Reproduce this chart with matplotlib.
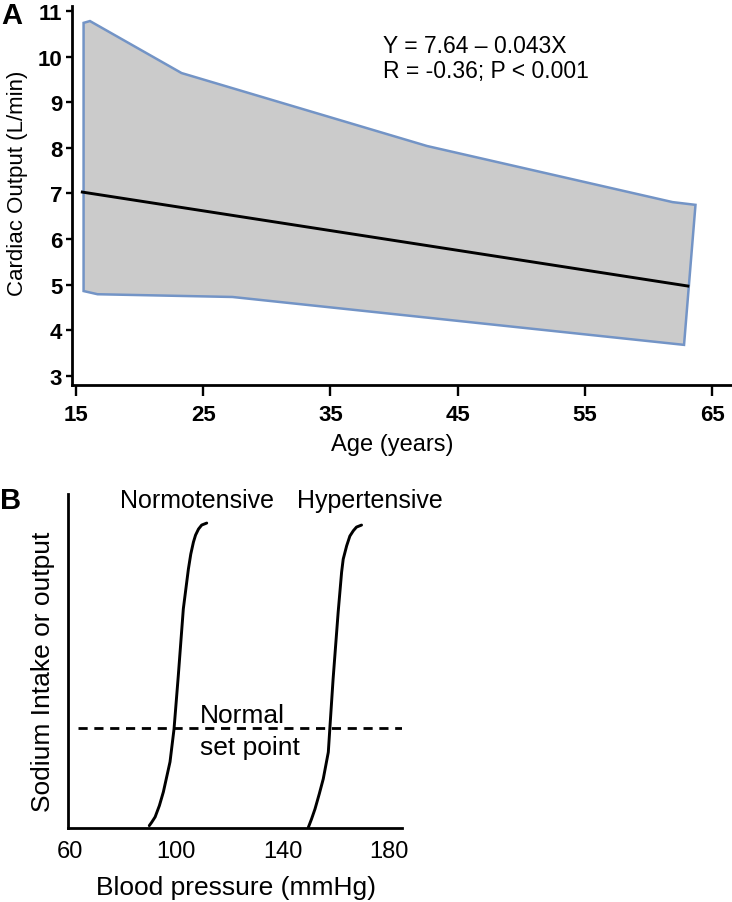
import numpy as np
import matplotlib
matplotlib.use("Agg")
import matplotlib.pyplot as plt

plt.rcParams['font.family'] = ['Liberation Sans', 'DejaVu Sans']

# panel A: cardiac output vs age band
upper_age = [15.6, 16.1, 23.3, 42.6, 61.9, 63.7]
upper_co = [10.74, 10.78, 9.64, 8.04, 6.81, 6.75]
lower_age = [15.6, 16.7, 27.3, 62.8]
lower_co = [4.86, 4.79, 4.73, 3.68]
fit_age = [15.5, 63.1]
fit_co = [7.03, 4.97]
age_ticks = [15, 25, 35, 45, 55, 65]
co_ticks = [3, 4, 5, 6, 7, 8, 9, 10, 11]

# panel B: pressure natriuresis curves
normo_bp = [89.8, 90.7, 92.0, 93.6, 95.1, 97.6, 99.1, 100.7, 102.6, 104.5,
            105.4, 106.4, 107.2, 108.3, 109.5, 111.4]
normo_na = [0.007, 0.017, 0.033, 0.067, 0.108, 0.198, 0.296, 0.455, 0.656, 0.775,
            0.820, 0.856, 0.877, 0.895, 0.907, 0.913]
hyper_bp = [149.6, 150.8, 152.1, 153.7, 155.2, 157.1, 157.7, 158.9, 160.8, 162.1,
            162.7, 164.0, 165.2, 166.5, 167.7, 169.6]
hyper_na = [0.002, 0.027, 0.057, 0.102, 0.147, 0.227, 0.301, 0.446, 0.646, 0.766,
            0.805, 0.845, 0.874, 0.890, 0.901, 0.907]
set_point = 0.30
bp_ticks = [60, 100, 140, 180]

fig = plt.figure(figsize=(7.32, 9.03), dpi=100)

# ---- A ----
ax = fig.add_axes([72/732, (903-386)/903, 660/732, 379/903])
poly_x = upper_age + lower_age[::-1]
poly_y = upper_co + lower_co[::-1]
ax.fill(poly_x, poly_y, facecolor='#cbcbcb', edgecolor='#7394c6', lw=1.8, zorder=1)
ax.plot(fit_age, fit_co, color='black', lw=2.1, zorder=2)
ax.set_xlim(14.69, 66.57)
ax.set_ylim(2.80, 11.11)
ax.set_xticks(age_ticks)
ax.set_yticks(co_ticks)
for s in ['top', 'right']:
    ax.spines[s].set_visible(False)
for s in ['left', 'bottom']:
    ax.spines[s].set_linewidth(2.0)
ax.tick_params(axis='x', length=8, width=1.7, pad=6, labelsize=16)
ax.tick_params(axis='y', length=4, width=1.7, pad=3, labelsize=16)
for lab in ax.get_xticklabels() + ax.get_yticklabels():
    lab.set_fontweight('bold')
ax.set_xlabel('Age (years)', fontsize=17)
ax.xaxis.set_label_coords(0.485, -0.156)
ax.xaxis.label.set_va('center')
ax.set_ylabel('Cardiac Output (L/min)', fontsize=16)
ax.yaxis.set_label_coords(-0.082, 0.536)
ax.yaxis.label.set_va('center')
ax.text(39.1, 10.10, 'Y = 7.64 \u2013 0.043X', fontsize=16.5, va='baseline')
ax.text(39.1, 9.55, 'R = -0.36; P < 0.001', fontsize=16.5, va='baseline')
fig.text(12/732, 1 - 16/903, 'A', fontsize=21, fontweight='bold', ha='center', va='center')

# ---- B ----
bx = fig.add_axes([68/732, (903-829)/903, 334/732, 334/903])
bx.plot(normo_bp, normo_na, color='black', lw=2.1, solid_capstyle='round', solid_joinstyle='round')
bx.plot(hyper_bp, hyper_na, color='black', lw=2.1, solid_capstyle='round', solid_joinstyle='round')
bx.plot([63.1, 184.8], [set_point, set_point], color='black', lw=2.0, dashes=(3.3, 2.4))
bx.set_xlim(59.25, 184.8)
bx.set_ylim(0, 1)
bx.set_xticks(bp_ticks)
bx.set_yticks([])
for s in ['top', 'right']:
    bx.spines[s].set_visible(False)
for s in ['left', 'bottom']:
    bx.spines[s].set_linewidth(2.0)
bx.tick_params(axis='x', length=0, pad=9, labelsize=17)
bx.set_xlabel('Blood pressure (mmHg)', fontsize=19)
bx.xaxis.set_label_coords(0.503, -0.177)
bx.xaxis.label.set_va('center')
bx.set_ylabel('Sodium Intake or output', fontsize=19)
bx.yaxis.set_label_coords(-0.075, 0.470)
bx.yaxis.label.set_va('center')
bx.text(107.6, 0.961, 'Normotensive', fontsize=18, ha='center', va='baseline')
bx.text(172.7, 0.961, 'Hypertensive', fontsize=18, ha='center', va='baseline')
bx.text(108.9, 0.317, 'Normal', fontsize=19, va='baseline')
bx.text(108.9, 0.222, 'set point', fontsize=19, va='baseline')
fig.text(11/732, 1 - 501/903, 'B', fontsize=21, fontweight='bold', ha='center', va='center')

fig.savefig('out.png', dpi=100)
